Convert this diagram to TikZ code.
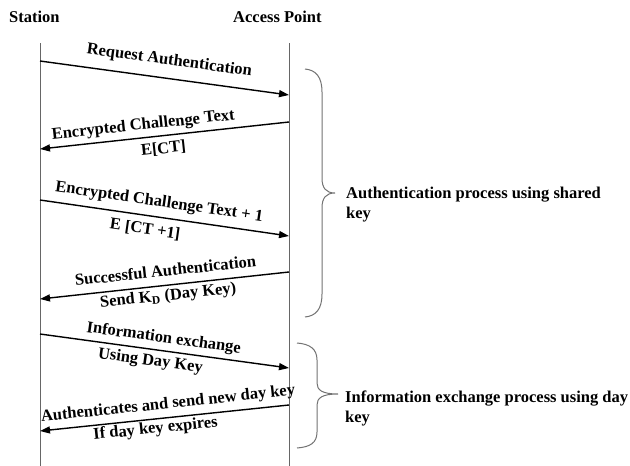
\documentclass[tikz,border=0pt]{standalone}
\usepackage{fontspec}
\setmainfont{Liberation Serif}
\usetikzlibrary{arrows.meta}
\begin{document}
\begin{tikzpicture}[x=1pt,y=-1pt,
  txt/.style={font=\bfseries\fontsize{16.5}{20}\selectfont, inner sep=0pt},
  hdr/.style={txt},
  lbl/.style={txt, sloped, text height=11pt, text depth=4pt},
  life/.style={draw=black!60, line width=1pt},
  msg/.style={draw=black, line width=1.4pt, -{Triangle[length=10pt,width=7pt]}},
  brc/.style={draw=black!55, line width=1pt},
  note/.style={txt, align=left, anchor=north west}]
\useasboundingbox[fill=white] (0,0) rectangle (630,466);

% headers
\node[hdr, anchor=base west] (st) at (9,22) {Station};
\node[hdr, anchor=base west] (ap) at (233,22) {Access Point};

% lifelines
\coordinate (sTop) at (40,43);
\coordinate (sBot) at (40,466);
\coordinate (aTop) at (289,43);
\coordinate (aBot) at (289,466);
\draw[life] (sTop) -- (sBot);
\draw[life] (aTop) -- (aBot);

% message end points
\coordinate (m1s) at (40,61);   \coordinate (m1a) at (289,95);
\coordinate (m2a) at (289,122); \coordinate (m2s) at (40,149);
\coordinate (m3s) at (40,200);  \coordinate (m3a) at (289,236);
\coordinate (m4a) at (289,272); \coordinate (m4s) at (40,299);
\coordinate (m5s) at (40,334);  \coordinate (m5a) at (289,368);
\coordinate (m6a) at (289,405); \coordinate (m6s) at (40,431);

\draw[msg] (m1s) -- node[lbl, pos=0.51, above=9pt] (l1) {Request Authentication} (m1a);
\draw[msg] (m2a) --
  node[lbl, pos=0.58, above=3.5pt] (l2a) {Encrypted Challenge Text}
  node[lbl, pos=0.51, below=6pt] (l2b) {E[CT]} (m2s);
\draw[msg] (m3s) --
  node[lbl, pos=0.47, above=6pt] (l3a) {Encrypted Challenge Text + 1}
  node[lbl, pos=0.43, below=7pt] (l3b) {E [CT +1]} (m3a);
\draw[msg] (m4a) --
  node[lbl, pos=0.49, above=4.5pt] (l4a) {Successful Authentication}
  node[lbl, pos=0.49, below=3.5pt] (l4b) {Send K\textsubscript{D} (Day Key)} (m4s);
\draw[msg] (m5s) --
  node[lbl, pos=0.49, above=3.5pt] (l5a) {Information exchange}
  node[lbl, pos=0.45, below=4.5pt] (l5b) {Using Day Key} (m5a);
\draw[msg] (m6a) --
  node[lbl, pos=0.48, above=4.5pt] (l6a) {Authenticates and send new day key}
  node[lbl, pos=0.54, below=2.5pt] (l6b) {If day key expires} (m6s);

% braces
\draw[brc] (305,69) .. controls (316,70) and (322,77) .. (322,92) -- (322,178)
  .. controls (322,188) and (326,193) .. (335,193)
  .. controls (326,193) and (322,198) .. (322,208) -- (322,294)
  .. controls (322,309) and (316,316) .. (305,317);
\draw[brc] (297,343) .. controls (310,344) and (317,349) .. (317,360) -- (317,383)
  .. controls (317,390) and (322,394) .. (338,394)
  .. controls (322,394) and (317,398) .. (317,405) -- (317,432)
  .. controls (317,443) and (310,447) .. (297,448);

% annotations
\node[note] (n1) at (346,187) {Authentication process using shared\\key};
\node[note] (n2) at (345,391) {Information exchange process using day\\key};
\end{tikzpicture}
\end{document}
